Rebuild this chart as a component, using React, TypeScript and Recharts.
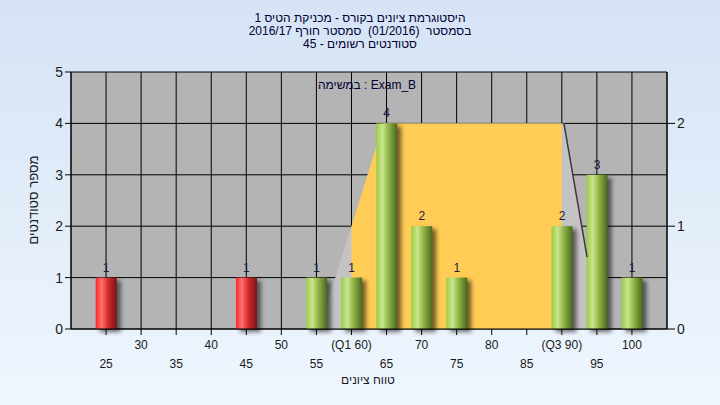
import React from 'react';
import { ComposedChart, Bar, Area, Line, XAxis, YAxis, CartesianGrid, LabelList } from 'recharts';

const xTicks = [25, 30, 35, 40, 45, 50, 55, 60, 65, 70, 75, 80, 85, 90, 95, 100];
const tickLabelOverrides: Record<number, string> = { 60: '(Q1 60)', 90: '(Q3 90)' };
const barScores = [25, 45, 55, 60, 65, 70, 75, 90, 95, 100];
const barCounts = [1, 1, 1, 1, 4, 2, 1, 2, 3, 1];
const passMark = 55;
const distX = [55.4, 64.6, 90.3, 95.4];
const distY = [0, 2, 2, 0];
const iqrX = [60, 60, 64.6, 90, 90];
const iqrY = [0, 1, 2, 2, 0];
// visible part of the distribution's right edge (the rest is hidden behind the 95 bar)
const edgeX = [90.3, 93.6];
const edgeY = [2, 0.7];
const leftTicks = [0, 1, 2, 3, 4, 5];
const rightTicks = [0, 1, 2];

const titleLines = [
  'היסטוגרמת ציונים בקורס - מכניקת הטיס 1',
  'בסמסטר  (01/2016)  סמסטר חורף 2016/17',
  'סטודנטים רשומים - 45',
];
const yTitle = 'מספר סטודנטים';
const xTitle = 'טווח ציונים';
const legendText = 'במשימה : Exam_B';

const barData = barScores.map((s, i) => ({ x: s, count: barCounts[i] }));
const distData = distX.map((x, i) => ({ x, v: distY[i] }));
const iqrData = iqrX.map((x, i) => ({ x, v: iqrY[i] }));
const edgeData = edgeX.map((x, i) => ({ x, v: edgeY[i] }));

const FONT = '"Liberation Sans", Arial, sans-serif';
const BAR_W = 21;

const CylBar = (p: any) => {
  const { x, y, width, height, payload } = p;
  if (!height || height <= 0) return null;
  const red = payload.x < passMark;
  const cx = x + width / 2;
  const bx = cx - BAR_W / 2;
  return (
    <g>
      <rect x={bx + 4} y={y + 3} width={BAR_W} height={height} fill="#000" opacity={0.55} filter="url(#shBlur)" />
      <rect x={bx} y={y} width={BAR_W} height={height} fill={red ? 'url(#gRed)' : 'url(#gGreen)'} />
    </g>
  );
};

const XTick = (p: any) => {
  const { x, payload, index } = p;
  const v = payload.value;
  const label = tickLabelOverrides[v] ?? String(v);
  const lower = index % 2 === 0;
  return (
    <text x={x} y={lower ? 368 : 349} textAnchor="middle" fontSize={12} fontFamily={FONT} fill="#1a1a1a">
      {label}
    </text>
  );
};

export default function App() {
  return (
    <div
      style={{
        position: 'absolute',
        left: 0,
        top: 0,
        width: 720,
        height: 405,
        background: 'linear-gradient(#D5E3F5, #EFF6FE)',
        fontFamily: FONT,
        overflow: 'hidden',
      }}
    >
      <div style={{ position: 'absolute', left: 0, top: 12, width: 720, textAlign: 'center', fontSize: 12, lineHeight: '13px', color: '#000033', direction: 'rtl', whiteSpace: 'pre' }}>
        {titleLines.map((t, i) => (
          <div key={i}>{t}</div>
        ))}
      </div>
      <ComposedChart
        width={720}
        height={405}
        data={barData}
        margin={{ top: 72, right: 0, bottom: 0, left: 0 }}
        style={{ position: 'absolute', left: 0, top: 0 }}
      >
        <defs>
          <linearGradient id="gGreen" x1="0" y1="0" x2="1" y2="0">
            <stop offset="0%" stopColor="#9CCB45" />
            <stop offset="30%" stopColor="#C9E58E" />
            <stop offset="60%" stopColor="#8DB243" />
            <stop offset="100%" stopColor="#4C661E" />
          </linearGradient>
          <linearGradient id="gRed" x1="0" y1="0" x2="1" y2="0">
            <stop offset="0%" stopColor="#FF2525" />
            <stop offset="28%" stopColor="#FF7272" />
            <stop offset="60%" stopColor="#D22828" />
            <stop offset="100%" stopColor="#781414" />
          </linearGradient>
          <filter id="shBlur" x="-50%" y="-10%" width="200%" height="120%">
            <feGaussianBlur stdDeviation="2" />
          </filter>
        </defs>
        <CartesianGrid yAxisId="left" stroke="#000" strokeWidth={1} fill="#B4B4B4" fillOpacity={1} strokeDasharray="" />
        <XAxis
          dataKey="x"
          type="number"
          domain={[20, 105]}
          ticks={xTicks}
          interval={0}
          height={76}
          tick={<XTick />}
          tickLine={{ stroke: '#000' }}
          tickSize={6}
          axisLine={{ stroke: '#000' }}
          allowDataOverflow
        />
        <YAxis
          yAxisId="left"
          domain={[0, 5]}
          ticks={leftTicks}
          width={71}
          tick={{ fontSize: 14, fill: '#1a1a1a', fontFamily: FONT }}
          tickLine={{ stroke: '#000' }}
          tickSize={6}
          axisLine={{ stroke: '#000' }}
        />
        <YAxis
          yAxisId="right"
          orientation="right"
          domain={[0, 2.5]}
          ticks={rightTicks}
          width={53}
          tick={{ fontSize: 14, fill: '#1a1a1a', fontFamily: FONT }}
          tickLine={{ stroke: '#000' }}
          tickSize={8}
          axisLine={{ stroke: '#000' }}
        />
        <Area
          yAxisId="right"
          data={distData}
          dataKey="v"
          type="linear"
          stroke="none"
          fill="#C3C3C3"
          fillOpacity={1}
          isAnimationActive={false}
          dot={false}
          activeDot={false}
        />
        <Area
          yAxisId="right"
          data={iqrData}
          dataKey="v"
          type="linear"
          stroke="none"
          fill="#FFCC55"
          fillOpacity={1}
          isAnimationActive={false}
          dot={false}
          activeDot={false}
        />
        <Line
          yAxisId="right"
          data={edgeData}
          dataKey="v"
          type="linear"
          stroke="#3a3a3a"
          strokeWidth={1.5}
          dot={false}
          activeDot={false}
          isAnimationActive={false}
        />
        <Bar yAxisId="left" dataKey="count" shape={<CylBar />} isAnimationActive={false}>
          <LabelList dataKey="count" position="top" offset={6} fontSize={12} fill="#1a1a40" fontFamily={FONT} />
        </Bar>
      </ComposedChart>
      <div style={{ position: 'absolute', left: 267, top: 78, width: 200, textAlign: 'center', fontSize: 12, color: '#000033' }}>
        {legendText}
      </div>
      <div
        style={{
          position: 'absolute',
          left: 34 - 60,
          top: 200 - 8,
          width: 120,
          textAlign: 'center',
          fontSize: 13,
          lineHeight: '16px',
          color: '#1a1a1a',
          transform: 'rotate(-90deg)',
        }}
      >
        {yTitle}
      </div>
      <div style={{ position: 'absolute', left: 268, top: 373, width: 200, textAlign: 'center', fontSize: 12, color: '#1a1a1a' }}>
        {xTitle}
      </div>
    </div>
  );
}
